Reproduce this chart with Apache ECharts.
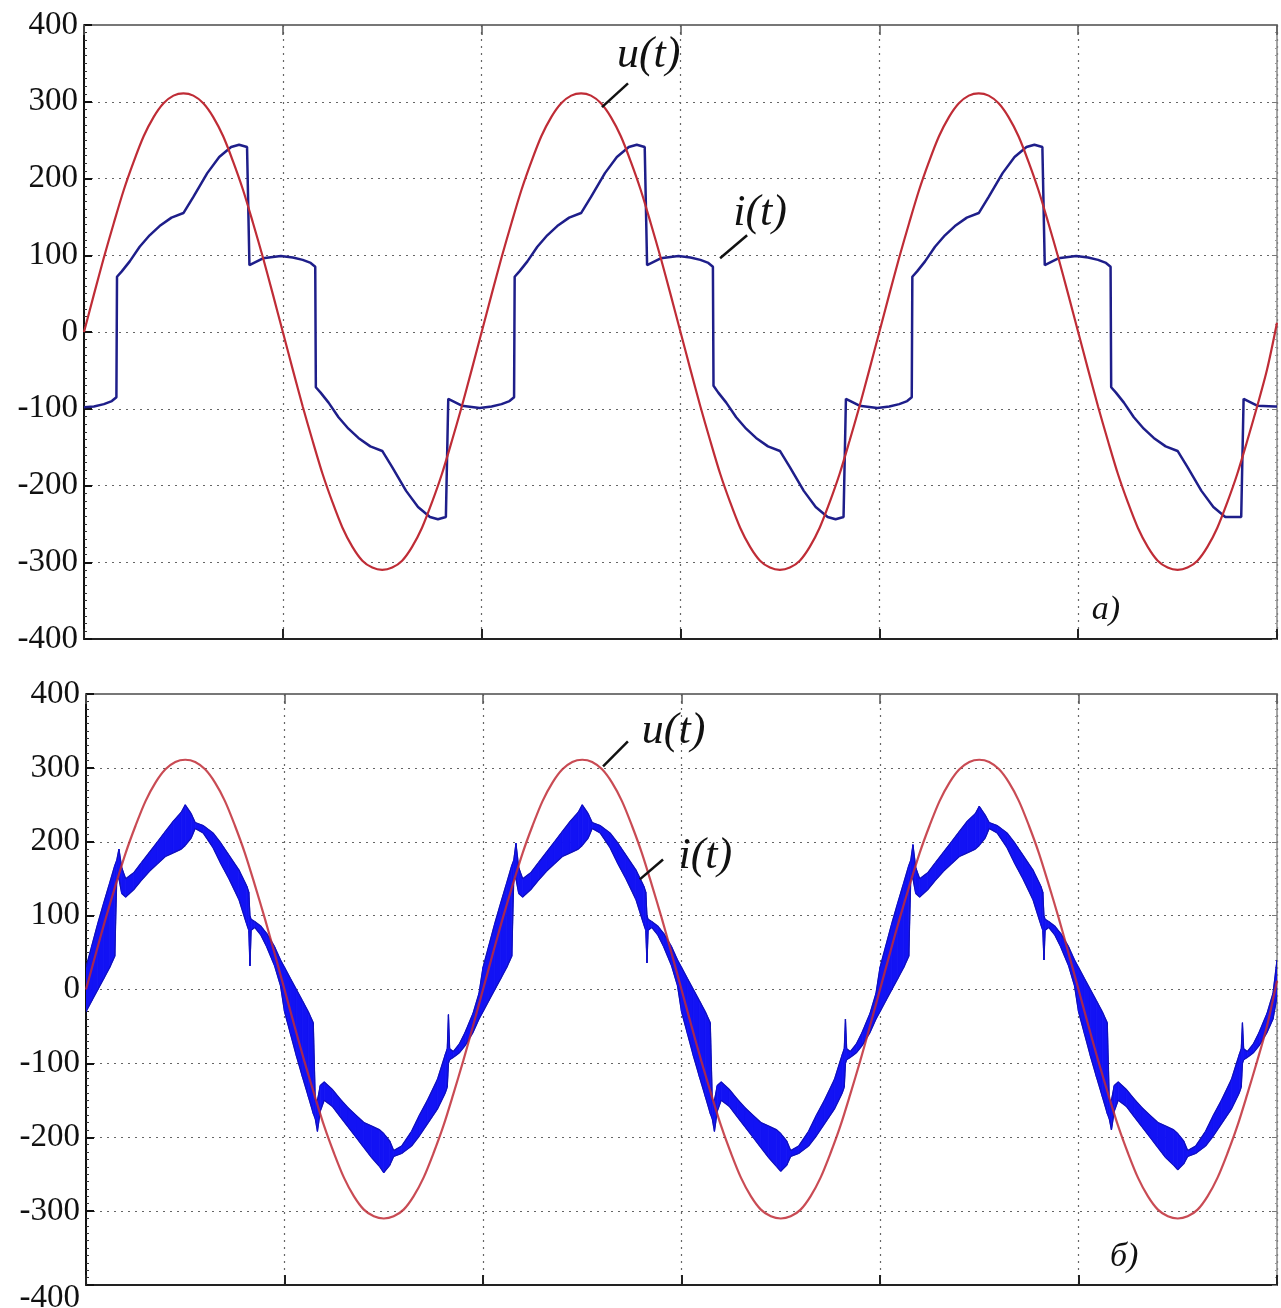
<!DOCTYPE html>
<html>
<head>
<meta charset="utf-8">
<script src="https://cdn.jsdelivr.net/npm/echarts@6/dist/echarts.min.js"></script>
<style>
html,body{margin:0;padding:0;background:#fff;}
#chart{width:1281px;height:1308px;}
</style>
</head>
<body>
<div id="chart"></div>
<script>
// ---------- DATA (t in ms, values in V / A) ----------
const yTicks = [-400, -300, -200, -100, 0, 100, 200, 300, 400];
const xTicks = [0, 10, 20, 30, 40, 50, 60];

const uStep = 0.5;
const uVals = [
  0, 49, 97, 142, 185, 222, 255, 280, 298, 308, 311, 308, 298, 280, 255, 222, 185, 142, 97, 49,
  0, -49, -97, -142, -185, -222, -255, -280, -298, -307, -310, -307, -298, -280, -255, -222, -185, -142, -97, -49,
  0, 49, 97, 142, 185, 222, 255, 280, 298, 308, 311, 308, 298, 280, 255, 222, 185, 142, 97, 49,
  0, -49, -97, -142, -185, -222, -255, -280, -298, -307, -310, -307, -298, -280, -255, -222, -185, -142, -97, -49,
  0, 49, 97, 142, 185, 222, 255, 280, 298, 308, 311, 308, 298, 280, 255, 222, 185, 142, 97, 49,
  0, -49, -97, -142, -185, -222, -255, -280, -298, -307, -310, -307, -298, -280, -255, -222, -185, -142, -97, -49,
  12
];

// panel a) i(t): time offsets within each 20 ms period and values for each period
const iA_tp = [0, 0.5, 1.0, 1.4, 1.63, 1.66, 1.9, 2.3, 2.8, 3.3, 3.8, 4.4, 5.0, 5.1, 5.5, 6.2, 6.8, 7.4, 7.8, 8.2, 8.28, 8.32,
  9.0, 9.9, 10.5, 11.0, 11.4, 11.63, 11.66, 11.9, 12.3, 12.8, 13.3, 13.8, 14.4, 15.0, 15.1, 15.5, 16.2, 16.8, 17.4, 17.8, 18.2, 18.28, 18.32, 19.0, 19.9];
const iA_p1 = [-98, -97, -94, -90, -85, 72, 79, 92, 111, 126, 138, 149, 155, 157, 176, 207, 228, 241, 244, 241, 240, 87,
  96, 99, 97, 94, 90, 85, -72, -79, -92, -111, -126, -138, -149, -155, -157, -176, -207, -228, -241, -244, -241, -240, -87, -96, -99];
const iA_p2 = [-98, -97, -94, -90, -85, 72, 79, 92, 111, 126, 138, 149, 155, 157, 176, 207, 228, 241, 244, 241, 240, 87,
  96, 99, 97, 94, 90, 85, -70, -79, -92, -111, -126, -138, -149, -155, -157, -176, -207, -228, -241, -244, -241, -240, -87, -96, -99];
const iA_p3 = [-98, -97, -94, -90, -85, 72, 79, 92, 111, 126, 138, 149, 155, 157, 176, 207, 228, 241, 244, 241, 240, 87,
  96, 99, 97, 94, 90, 85, -72, -79, -92, -111, -126, -138, -149, -155, -157, -176, -207, -228, -241, -241, -241, -240, -87, -96, -97];
const iA_end = -97;

// panel б) i(t): ripple band envelope (upper / lower edge), time offsets within each 10 ms half period
const iB_th = [0, 0.3, 0.6, 0.9, 1.2, 1.45, 1.55, 1.66, 1.8, 2.0, 2.4, 2.8, 3.2, 3.6, 4.0, 4.4, 4.8, 5.0, 5.3, 5.5,
  5.9, 6.4, 6.8, 7.2, 7.7, 8.1, 8.2, 8.26, 8.32, 8.5, 8.8, 9.1, 9.5, 9.8];
const iB_hi1 = [30, 60, 90, 118, 145, 168, 175, 190, 165, 150, 158, 172, 186, 200, 214, 228, 240, 250, 238, 226,
  222, 212, 198, 182, 162, 140, 132, 100, 95, 92, 86, 76, 58, 40];
const iB_lo1 = [-30, -15, 0, 15, 30, 45, 150, 150, 130, 125, 135, 148, 160, 170, 180, 185, 190, 195, 205, 218,
  212, 192, 170, 150, 122, 88, 80, 32, 80, 84, 74, 58, 32, 5];
const iB_hi2 = [30, 15, 0, -15, -30, -45, -150, -150, -130, -125, -135, -148, -160, -170, -180, -185, -190, -195, -205, -218,
  -212, -192, -170, -150, -122, -88, -80, -34, -80, -84, -74, -58, -32, -5];
const iB_lo2 = [-30, -60, -90, -118, -145, -168, -175, -192, -165, -150, -158, -172, -186, -200, -214, -228, -240, -248, -238, -226,
  -222, -212, -198, -182, -162, -140, -132, -100, -95, -92, -86, -76, -58, -40];
const iB_hi3 = [30, 60, 90, 118, 145, 168, 175, 198, 165, 150, 158, 172, 186, 200, 214, 228, 240, 250, 238, 226,
  222, 212, 198, 182, 162, 140, 132, 100, 95, 92, 86, 76, 58, 40];
const iB_lo3 = [-30, -15, 0, 15, 30, 45, 150, 150, 130, 125, 135, 148, 160, 170, 180, 185, 190, 195, 205, 218,
  212, 192, 170, 150, 122, 88, 80, 36, 80, 84, 74, 58, 32, 5];
const iB_hi4 = [30, 15, 0, -15, -30, -45, -150, -150, -130, -125, -135, -148, -160, -170, -180, -185, -190, -195, -205, -218,
  -212, -192, -170, -150, -122, -88, -80, -40, -80, -84, -74, -58, -32, -5];
const iB_lo4 = [-30, -60, -90, -118, -145, -168, -175, -192, -165, -150, -158, -172, -186, -200, -214, -228, -240, -246, -238, -226,
  -222, -212, -198, -182, -162, -140, -132, -100, -95, -92, -86, -76, -58, -40];
const iB_hi5 = [30, 60, 90, 118, 145, 168, 175, 196, 165, 150, 158, 172, 186, 200, 214, 228, 238, 248, 236, 226,
  222, 212, 198, 182, 162, 140, 132, 100, 95, 92, 86, 76, 58, 40];
const iB_lo5 = [-30, -15, 0, 15, 30, 45, 150, 150, 130, 125, 135, 148, 160, 170, 180, 185, 190, 195, 205, 218,
  212, 192, 170, 150, 122, 88, 80, 40, 80, 84, 74, 58, 32, 5];
const iB_hi6 = [30, 15, 0, -15, -30, -45, -150, -150, -130, -125, -135, -148, -160, -170, -180, -185, -190, -195, -205, -218,
  -212, -192, -170, -150, -122, -88, -80, -45, -80, -84, -74, -58, -32, -5];
const iB_lo6 = [-30, -60, -90, -118, -145, -168, -175, -190, -165, -150, -158, -172, -186, -200, -214, -228, -238, -244, -236, -226,
  -222, -212, -198, -182, -162, -140, -132, -100, -95, -92, -86, -76, -58, -40];
const iB_endHi = 40, iB_endLo = -10;

// annotations (data coordinates)
const annTop = { uText: [28.4, 360], uLine: [[26.05, 293], [27.36, 324]], iText: [34.0, 154], iLine: [[31.99, 96], [33.35, 126]], tag: [51.4, -362] };
const annBot = { uText: [29.6, 350], uLine: [[26.05, 302], [27.3, 336]], iText: [31.2, 180], iLine: [[27.9, 149], [29.07, 176]], tag: [52.3, -362] };

// ---------- BUILD ----------
const uData = uVals.map((v, k) => [k * uStep, v]);
const iAData = [];
[iA_p1, iA_p2, iA_p3].forEach((p, n) => p.forEach((v, j) => iAData.push([n * 20 + iA_tp[j], v])));
iAData.push([60, iA_end]);

const his = [iB_hi1, iB_hi2, iB_hi3, iB_hi4, iB_hi5, iB_hi6];
const los = [iB_lo1, iB_lo2, iB_lo3, iB_lo4, iB_lo5, iB_lo6];
const band = [];   // rows [t, lo, hi]
his.forEach((h, n) => h.forEach((v, j) => band.push([n * 10 + iB_th[j], los[n][j], v])));
band.push([60, iB_endLo, iB_endHi]);

const FONT = 'Liberation Serif';
const RED = '#bf2c36', NAVY = '#1e1e8a', BLUE = '#1212f4', BLUE_EDGE = '#1010b8';

function renderBand(params, api) {
  const i = params.dataIndex;
  if (i >= band.length - 1) return null;
  const a = band[i], b = band[i + 1];
  const p1 = api.coord([a[0], a[2]]), p2 = api.coord([b[0], b[2]]);
  const p3 = api.coord([b[0], b[1]]), p4 = api.coord([a[0], a[1]]);
  return {
    type: 'group',
    children: [
      { type: 'polygon', shape: { points: [p1, p2, p3, p4] },
        style: { fill: BLUE, stroke: BLUE, lineWidth: 0.8 } },
      { type: 'line', shape: { x1: p1[0], y1: p1[1], x2: p2[0], y2: p2[1] }, style: { stroke: BLUE_EDGE, lineWidth: 1.2 } },
      { type: 'line', shape: { x1: p4[0], y1: p4[1], x2: p3[0], y2: p3[1] }, style: { stroke: BLUE_EDGE, lineWidth: 1.2 } }
    ]
  };
}

function yAxisLeft(gi) {
  return {
    type: 'value', gridIndex: gi, min: -400, max: 400, interval: 100,
    axisLine: { show: true, onZero: false, lineStyle: { color: '#111', width: 2 } },
    axisTick: { show: true, inside: true, length: 8, lineStyle: { color: '#111', width: 2 } },
    minorTick: { show: true, splitNumber: 10, length: 3, lineStyle: { color: '#333', width: 1 } },
    axisLabel: {
      color: '#111', fontFamily: FONT, fontSize: 33, margin: 6,
      formatter: v => (gi === 1 && v === -400) ? '{low|-400}' : String(v),
      rich: { low: { fontFamily: FONT, fontSize: 33, color: '#111', padding: [26, 0, 0, 0] } }
    },
    splitLine: { show: true, lineStyle: { color: '#666', type: [2, 5], width: 1.2 } }
  };
}
function yAxisRight(gi) {
  return {
    type: 'value', gridIndex: gi, position: 'right', min: -400, max: 400, interval: 100,
    axisLine: { show: true, onZero: false, lineStyle: { color: '#888', width: 1.5 } },
    axisTick: { show: true, inside: true, length: 5, lineStyle: { color: '#777' } },
    minorTick: { show: true, splitNumber: 10, length: 2, lineStyle: { color: '#999' } },
    axisLabel: { show: false }, splitLine: { show: false }
  };
}
function xAxisBottom(gi) {
  return {
    type: 'value', gridIndex: gi, min: 0, max: 60, interval: 10,
    axisLine: { show: true, onZero: false, lineStyle: { color: '#222', width: 2 } },
    axisTick: { show: true, inside: true, length: 10, lineStyle: { color: '#222', width: 2 } },
    axisLabel: { show: false },
    splitLine: { show: true, lineStyle: { color: '#666', type: [2, 5], width: 1.2 } }
  };
}
function xAxisTop(gi) {
  return {
    type: 'value', gridIndex: gi, position: 'top', min: 0, max: 60, interval: 10,
    axisLine: { show: true, onZero: false, lineStyle: { color: '#777', width: 2 } },
    axisTick: { show: true, inside: true, length: 10, lineStyle: { color: '#555', width: 1.5 } },
    axisLabel: { show: false }, splitLine: { show: false }
  };
}
function annSeries(a, xi, yi, tag) {
  const txt = (pos, s, size) => ({
    coord: pos, symbol: 'circle', symbolSize: 0,
    label: { show: true, position: 'inside', formatter: s, fontFamily: FONT, fontStyle: 'italic', fontSize: size, color: '#111' }
  });
  return {
    type: 'line', xAxisIndex: xi, yAxisIndex: yi, data: [], symbol: 'none', silent: true, z: 10,
    markLine: {
      silent: true, symbol: ['none', 'none'], label: { show: false },
      lineStyle: { color: '#111', width: 2.5, type: 'solid' },
      data: [[{ coord: a.uLine[0] }, { coord: a.uLine[1] }], [{ coord: a.iLine[0] }, { coord: a.iLine[1] }]]
    },
    markPoint: {
      silent: true,
      data: [txt(a.uText, 'u(t)', 44), txt(a.iText, 'i(t)', 44), txt(a.tag, tag, 34)]
    }
  };
}

const option = {
  animation: false,
  backgroundColor: '#fff',
  grid: [
    { left: 84, top: 25, right: 4, height: 614, outerBoundsMode: 'none', containLabel: false },
    { left: 86, top: 694, right: 4, height: 591, outerBoundsMode: 'none', containLabel: false }
  ],
  xAxis: [xAxisBottom(0), xAxisTop(0), xAxisBottom(1), xAxisTop(1)],
  yAxis: [yAxisLeft(0), yAxisRight(0), yAxisLeft(1), yAxisRight(1)],
  series: [
    { name: 'i(t) a', type: 'line', xAxisIndex: 0, yAxisIndex: 0, data: iAData, symbol: 'none',
      lineStyle: { color: NAVY, width: 2.5 }, z: 3 },
    { name: 'u(t) a', type: 'line', xAxisIndex: 0, yAxisIndex: 0, data: uData, symbol: 'none', smooth: 0.3,
      lineStyle: { color: RED, width: 2.2 }, z: 4 },
    { name: 'i(t) б', type: 'custom', xAxisIndex: 2, yAxisIndex: 2, data: band,
      encode: { x: 0, y: [1, 2] }, renderItem: renderBand, z: 2, clip: true },
    { name: 'u(t) б', type: 'line', xAxisIndex: 2, yAxisIndex: 2, data: uData, symbol: 'none', smooth: 0.3,
      lineStyle: { color: RED, width: 2.2, opacity: 0.85 }, z: 4 },
    annSeries(annTop, 0, 0, 'а)'),
    annSeries(annBot, 2, 2, 'б)')
  ]
};

const chart = echarts.init(document.getElementById('chart'), null, { renderer: 'canvas' });
chart.setOption(option);
</script>
</body>
</html>
